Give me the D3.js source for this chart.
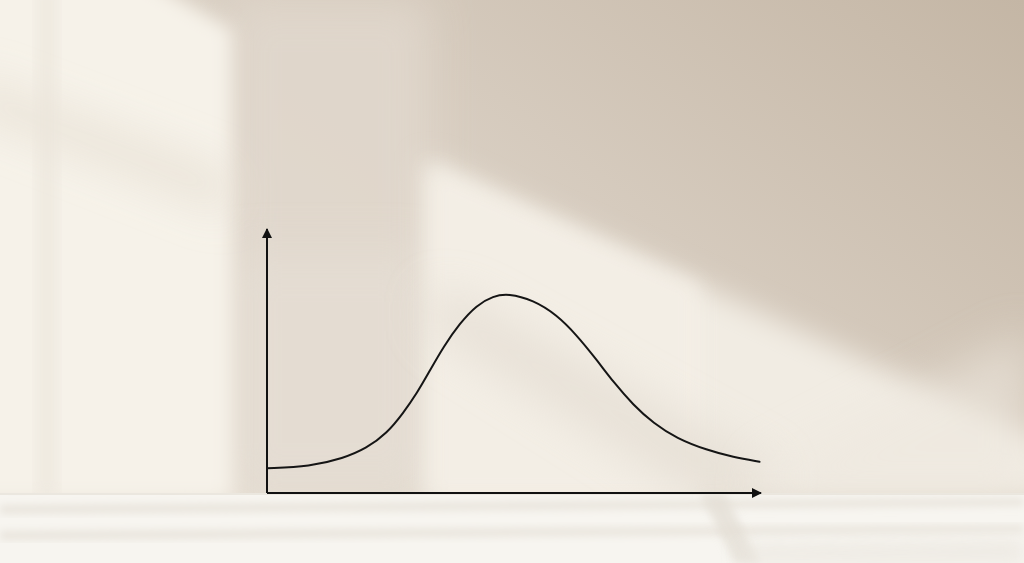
<!DOCTYPE html>
<html><head><meta charset="utf-8">
<script src="https://cdn.jsdelivr.net/npm/d3@7"></script>
<style>html,body{margin:0;padding:0;background:#efe9e0;overflow:hidden}svg{display:block}</style>
</head><body>
<svg id="c" width="1024" height="563"></svg>
<script>
// ---- data (bell-shaped curve) ----
const xValues = [0, 8.7, 15.5, 20.2, 24.3, 27.6, 30.4, 33.1, 35.8, 39.1, 42.5, 45.9, 48.9, 54.0, 58.8, 62.8, 66.9, 70.2, 74.3, 78.4, 83.1, 89.2, 94.6, 99.9];
const yValues = [9.3, 10.0, 13.1, 16.9, 22.5, 30.1, 37.6, 46.4, 55.2, 64.0, 70.9, 74.3, 75.3, 72.8, 67.2, 59.6, 50.2, 42.0, 33.2, 26.3, 20.6, 16.2, 13.5, 11.8];
const xDomain = [0, 100];
const yDomain = [0, 100];
const xTicks = [];
const yTicks = [];

const W = 1024, H = 563;
const svg = d3.select("#c");
const defs = svg.append("defs");

// ---- background: wall with window light ----
const g0 = defs.append("linearGradient").attr("id","wall").attr("x1","0").attr("y1","0.7").attr("x2","1").attr("y2","0");
[["0","#e9e2d7"],["0.45","#dad0c4"],["1","#c4b6a5"]].forEach(s=>g0.append("stop").attr("offset",s[0]).attr("stop-color",s[1]));
function blur(id, sd){
  defs.append("filter").attr("id",id).attr("x","-30%").attr("y","-30%").attr("width","160%").attr("height","160%")
    .append("feGaussianBlur").attr("stdDeviation",sd);
}
blur("blur1",9); blur("blur2",22); blur("blur3",4); blur("blur4",14);

const bg = svg.append("g");
bg.append("rect").attr("width",W).attr("height",H).attr("fill","url(#wall)");
// middle band (x 230-425) beige
bg.append("polygon").attr("points","230,0 430,0 430,495 230,495").attr("fill","#e1d8cd").attr("filter","url(#blur2)").attr("opacity",0.85);
bg.append("polygon").attr("points","230,250 430,250 430,495 230,495").attr("fill","#e6dfd5").attr("filter","url(#blur2)").attr("opacity",0.7);
// left window light
bg.append("polygon").attr("points","-30,-30 130,-30 232,30 232,500 -30,500").attr("fill","#f6f2e9").attr("filter","url(#blur1)");
// mullion shadows on left light
bg.append("polygon").attr("points","-30,75 232,175 232,215 -30,112").attr("fill","#e8e1d6").attr("filter","url(#blur2)").attr("opacity",0.85);
bg.append("rect").attr("x",38).attr("y",-20).attr("width",18).attr("height",520).attr("fill","#ebe5db").attr("filter","url(#blur1)").attr("opacity",0.8);
// diagonal light beam in the middle
bg.append("polygon").attr("points","425,160 1060,450 1060,500 425,500").attr("fill","#f1ece3").attr("filter","url(#blur4)");
bg.append("polygon").attr("points","428,163 700,285 700,500 428,500").attr("fill","#f4efe6").attr("filter","url(#blur1)").attr("opacity",0.8);
// darker diagonal shadow across beam
bg.append("polygon").attr("points","430,290 470,300 780,470 760,500 700,500 430,330").attr("fill","#e3dcd1").attr("filter","url(#blur2)").attr("opacity",0.7);
// lower right lighter area
bg.append("polygon").attr("points","760,470 1030,330 1030,500 760,500").attr("fill","#eee8df").attr("filter","url(#blur2)").attr("opacity",0.6);

// shelf / floor
bg.append("rect").attr("x",0).attr("y",494).attr("width",W).attr("height",70).attr("fill","#f7f5f0");
bg.append("rect").attr("x",0).attr("y",493).attr("width",W).attr("height",2).attr("fill","#ebe7df");
bg.append("polygon").attr("points","0,506 1024,499 1024,505 0,513").attr("fill","#e5e0d7").attr("filter","url(#blur3)");
bg.append("polygon").attr("points","0,532 1024,526 1024,532 0,539").attr("fill","#e5e0d7").attr("filter","url(#blur3)");
bg.append("polygon").attr("points","700,494 725,494 760,563 735,563").attr("fill","#e4dfd6").attr("filter","url(#blur3)").attr("opacity",0.8);
bg.append("polygon").attr("points","740,545 1024,540 1024,563 740,563").attr("fill","#ebe7e0").attr("filter","url(#blur1)").attr("opacity",0.8);

// ---- chart ----
const x = d3.scaleLinear().domain(xDomain).range([267, 760]);
const y = d3.scaleLinear().domain(yDomain).range([493, 228]);

defs.append("marker").attr("id","arrow").attr("viewBox","0 0 10 10").attr("refX",9).attr("refY",5)
  .attr("markerWidth",10).attr("markerHeight",10).attr("markerUnits","userSpaceOnUse").attr("orient","auto")
  .append("path").attr("d","M0,0 L10,5 L0,10 z").attr("fill","#111");

const chart = svg.append("g");
const xAxis = chart.append("g").attr("transform",`translate(0,${y(0)})`)
  .call(d3.axisBottom(x).tickValues(xTicks).tickSizeOuter(0));
const yAxis = chart.append("g").attr("transform",`translate(${x(0)},0)`)
  .call(d3.axisLeft(y).tickValues(yTicks).tickSizeOuter(0));
[xAxis, yAxis].forEach(a=>{
  a.select(".domain").attr("stroke","#111").attr("stroke-width",2).attr("marker-end","url(#arrow)");
});
yAxis.select(".domain").attr("d",`M0,${y(0)}V${y(yDomain[1])+1}`);
xAxis.select(".domain").attr("d",`M${x(0)},0H${x(xDomain[1])+1}`);

const pts = xValues.map((v,i)=>[v, yValues[i]]);
chart.append("path").datum(pts)
  .attr("fill","none").attr("stroke","#151515").attr("stroke-width",2)
  .attr("stroke-linecap","round").attr("stroke-linejoin","round")
  .attr("d", d3.line().x(d=>x(d[0])).y(d=>y(d[1])).curve(d3.curveBasis));
</script>
</body></html>
